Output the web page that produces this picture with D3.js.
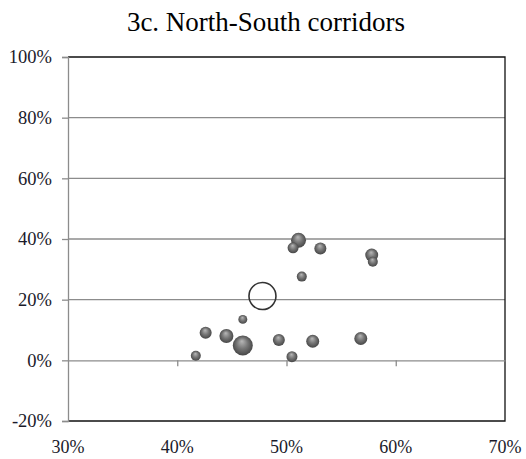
<!DOCTYPE html>
<html><head><meta charset="utf-8">
<script src="https://cdn.jsdelivr.net/npm/d3@7"></script>
<style>body{margin:0;background:#fff}svg{display:block}</style>
</head><body>
<svg id="c" width="526" height="459"></svg>
<script>
const title = "3c. North-South corridors";
const xTicks = [0.3, 0.4, 0.5, 0.6, 0.7];
const yTicks = [-0.2, 0, 0.2, 0.4, 0.6, 0.8, 1.0];
// corridor bubbles: x share, y growth, size
const xs = [0.511, 0.506, 0.531, 0.578, 0.579, 0.514, 0.460, 0.426, 0.445, 0.460, 0.493, 0.524, 0.568, 0.417, 0.505];
const ys = [0.396, 0.371, 0.369, 0.347, 0.325, 0.276, 0.135, 0.091, 0.080, 0.049, 0.067, 0.063, 0.072, 0.015, 0.012];
const sizes = [56, 30, 36, 42, 25, 25, 20, 36, 49, 100, 36, 42, 42, 25, 30];
// average (open circle)
const avgX = [0.478];
const avgY = [0.212];
const avgSize = [182];

const svg = d3.select("#c");
const L = 68, R = 505, T = 57, B = 421;
const x = d3.scaleLinear().domain([0.3, 0.7]).range([L, R]);
const y = d3.scaleLinear().domain([-0.2, 1.0]).range([B, T]);
const r = d3.scaleSqrt().domain([0, 100]).range([0, 10]);
const fmt = v => d3.format(".0%")(v).replace("\u2212", "-");

const defs = svg.append("defs");
const g = defs.append("radialGradient").attr("id","sph").attr("cx","50%").attr("cy","50%").attr("r","55%").attr("fx","45%").attr("fy","28%");
g.append("stop").attr("offset","0%").attr("stop-color","#b8b8b8");
g.append("stop").attr("offset","50%").attr("stop-color","#767676");
g.append("stop").attr("offset","100%").attr("stop-color","#404040");

svg.append("text").attr("x", 266).attr("y", 31).attr("text-anchor","middle")
  .attr("font-family","'Liberation Serif', serif").attr("font-size", 27).attr("fill","#000").text(title);

// gridlines
svg.append("g").selectAll("line").data(yTicks.filter(v => v > 0 && v < 1))
  .join("line").attr("x1", L).attr("x2", R).attr("y1", d => y(d)).attr("y2", d => y(d))
  .attr("stroke","#8c8c8c").attr("stroke-width",1.3);

// plot frame (top, right, bottom)
svg.append("path").attr("d", `M${L},${T}H${R}V${B}H${L}`).attr("fill","none").attr("stroke","#111").attr("stroke-width",1.3);

// y axis
const yAx = svg.append("g").attr("transform", `translate(${L},0)`)
  .call(d3.axisLeft(y).tickValues(yTicks).tickFormat(fmt).tickSize(6).tickPadding(10));
yAx.select(".domain").attr("stroke","#8c8c8c").attr("stroke-width",1.3);
yAx.selectAll(".tick line").attr("stroke","#8c8c8c").attr("stroke-width",1.3);
yAx.selectAll("text").attr("font-family","'Liberation Serif', serif").attr("font-size",18.5).attr("fill","#1a1a2a");

// x axis at 0
const xAx = svg.append("g").attr("transform", `translate(0,${y(0)})`)
  .call(d3.axisBottom(x).tickValues(xTicks.filter(v => v > 0.3 && v < 0.7)).tickFormat("").tickSize(6).tickSizeOuter(0));
xAx.select(".domain").attr("stroke","#8c8c8c").attr("stroke-width",1.3);
xAx.selectAll(".tick line").attr("stroke","#8c8c8c").attr("stroke-width",1.3);

// x labels at bottom
svg.append("g").selectAll("text").data(xTicks).join("text")
  .attr("x", d => x(d)).attr("y", 453).attr("text-anchor","middle")
  .attr("font-family","'Liberation Serif', serif").attr("font-size",18).attr("fill","#1a1a2a")
  .text(d => fmt(d));

// bubbles
const pts = xs.map((v, i) => ({x: v, y: ys[i], s: sizes[i]}));
svg.append("g").selectAll("circle").data(pts).join("circle")
  .attr("cx", d => x(d.x)).attr("cy", d => y(d.y)).attr("r", d => r(d.s))
  .attr("fill","url(#sph)");

svg.append("g").selectAll("circle").data(avgX.map((v,i)=>({x:v,y:avgY[i],s:avgSize[i]}))).join("circle")
  .attr("cx", d => x(d.x)).attr("cy", d => y(d.y)).attr("r", d => r(d.s))
  .attr("fill","none").attr("stroke","#333").attr("stroke-width",1.6);
</script>
</body></html>
